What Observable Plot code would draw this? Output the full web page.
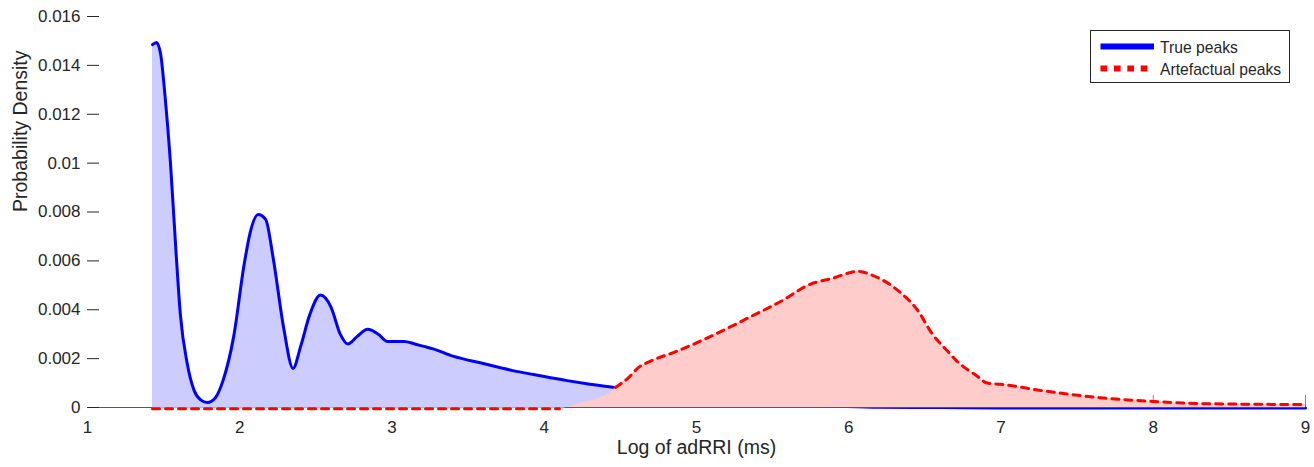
<!DOCTYPE html>
<html>
<head>
<meta charset="utf-8">
<script src="https://cdn.jsdelivr.net/npm/d3@7"></script>
<script src="https://cdn.jsdelivr.net/npm/@observablehq/plot@0.6"></script>
<style>
  body { margin: 0; background: #fff; }
  #wrap { position: relative; width: 1314px; height: 467px; font-family: "Liberation Sans", Arial, sans-serif; }
  #legend { position: absolute; left: 1090px; top: 30px; }
</style>
</head>
<body>
<div id="wrap">
  <div id="chart"></div>
  <div id="legend"></div>
</div>
<script>
// ---- data ----
const trueX = [1.427, 1.453, 1.48, 1.51, 1.545, 1.58, 1.61, 1.655, 1.70, 1.745, 1.786, 1.84, 1.89, 1.96, 2.03, 2.07, 2.12, 2.17, 2.22, 2.29, 2.35, 2.40, 2.46, 2.53, 2.60, 2.66, 2.71, 2.77, 2.84, 2.91, 2.97, 3.03, 3.08, 3.15, 3.21, 3.27, 3.40, 3.60, 3.80, 3.93, 4.15, 4.30, 4.47, 4.6, 4.8, 5.0, 5.3, 5.6, 5.9, 6.2, 6.6, 7.0, 7.5, 8.0, 8.5, 9.0];
const trueY = [0.01485, 0.01494, 0.01448, 0.0127, 0.0100, 0.0065, 0.0038, 0.0018, 0.0007, 0.0003, 0.0002, 0.0004, 0.0011, 0.0029, 0.0059, 0.0072, 0.0079, 0.0077, 0.0061, 0.0032, 0.0016, 0.0025, 0.0038, 0.0046, 0.0041, 0.0030, 0.0026, 0.0029, 0.0032, 0.0030, 0.0027, 0.0027, 0.0027, 0.0026, 0.0025, 0.0024, 0.0021, 0.0018, 0.0015, 0.00135, 0.0011, 0.00095, 0.0008, 0.0006, 0.0004, 0.0003, 0.0002, 0.00012, 0.00006, 0.00001, 0, -0.00002, -0.00002, -0.00002, -0.00002, -0.00002];

const artX = [1.427, 4.10, 4.18, 4.26, 4.37, 4.45, 4.467, 4.55, 4.62, 4.70, 4.87, 5.09, 5.35, 5.57, 5.73, 5.90, 6.06, 6.16, 6.34, 6.45, 6.55, 6.65, 6.71, 6.84, 6.91, 7.0, 7.26, 7.65, 8.0, 8.3, 9.0];
const artY = [-0.00005, -0.00005, 0.00005, 0.0002, 0.0004, 0.0007, 0.00082, 0.0012, 0.00164, 0.0019, 0.0023, 0.0029, 0.0037, 0.0044, 0.0050, 0.0053, 0.00557, 0.0054, 0.0047, 0.0040, 0.0030, 0.0023, 0.0019, 0.0013, 0.0010, 0.00095, 0.0007, 0.0004, 0.00025, 0.00016, 0.00012];

const xTicks = [1, 2, 3, 4, 5, 6, 7, 8, 9];
const yTicks = [0, 0.002, 0.004, 0.006, 0.008, 0.01, 0.012, 0.014, 0.016];
const seriesNames = ["True peaks", "Artefactual peaks"];
const xLabel = "Log of adRRI (ms)";
const yLabel = "Probability Density";

// ---- build tables ----
const trueData = trueX.map((x, i) => ({x, y: trueY[i]}));
const artData = artX.map((x, i) => ({x, y: artY[i]}));
const bis = d3.bisector(d => d).left;
function trueAt(x) {
  const i = Math.max(1, Math.min(trueX.length - 1, bis(trueX, x)));
  const t = (x - trueX[i - 1]) / (trueX[i] - trueX[i - 1]);
  return trueY[i - 1] + t * (trueY[i] - trueY[i - 1]);
}
// the dashed line is hidden where it lies beneath the blue fill
const artLine = artData.map(d => ({x: d.x, y: (d.y <= 0 || d.y >= trueAt(d.x) - 1e-5) ? d.y : NaN}));

const ink = "#262626";
const chart = Plot.plot({
  width: 1314,
  height: 467,
  marginLeft: 87,
  marginRight: 9,
  marginTop: 16,
  marginBottom: 60,
  style: {fontFamily: "'Liberation Sans', Arial, sans-serif", fontSize: "17px", color: ink, background: "#fff"},
  x: {domain: [1, 9]},
  y: {domain: [0, 0.016]},
  marks: [
    Plot.ruleY([0], {stroke: ink, strokeWidth: 1}),
    Plot.axisX({ticks: xTicks.slice(1), tickSize: -12, tickFormat: () => "", stroke: "#888", label: null}),
    Plot.areaY(trueData, {x: "x", y: "y", fill: "#ccccff", curve: "monotone-x"}),
    Plot.line(trueData, {x: "x", y: "y", stroke: "#0000ff", strokeWidth: 3, curve: "monotone-x"}),
    Plot.areaY(artData, {x: "x", y: "y", fill: "#ffcccc", curve: "monotone-x"}),
    Plot.ruleY([0], {stroke: "#8888aa", strokeOpacity: 0.5, strokeWidth: 1}),
    Plot.line(artLine, {x: "x", y: "y", stroke: "#ff0000", strokeWidth: 3, strokeDasharray: "7,6", curve: "monotone-x"}),
    Plot.axisY({ticks: yTicks, tickSize: -12, tickFormat: () => "", stroke: ink, label: null}),
    Plot.axisY({ticks: yTicks, tickSize: 0, tickPadding: 7, tickFormat: d => String(d), fill: ink, label: null}),
    Plot.axisX({ticks: xTicks, tickSize: 0, tickPadding: 13, tickFormat: d => String(d), fill: ink, label: null}),
    Plot.text([xLabel], {frameAnchor: "bottom", dy: 46, fontSize: 19.5, fill: ink}),
    Plot.text([yLabel], {frameAnchor: "left", rotate: -90, dx: -67, fontSize: 19.5, fill: ink})
  ]
});
document.getElementById("chart").appendChild(chart);

// ---- legend ----
const lg = d3.select("#legend").append("svg").attr("width", 201).attr("height", 54)
  .style("font-family", "'Liberation Sans', Arial, sans-serif");
lg.append("rect").attr("x", 0.5).attr("y", 0.5).attr("width", 199).attr("height", 52)
  .attr("fill", "#fff").attr("stroke", ink).attr("stroke-width", 1);
const styles = [
  {stroke: "#0000ff", dash: null, x2: 64},
  {stroke: "#ff0000", dash: "6.7,6.7", x2: 58}
];
seriesNames.forEach((name, i) => {
  const cy = 16.5 + i * 22;
  lg.append("line").attr("x1", 10.5).attr("x2", styles[i].x2).attr("y1", cy).attr("y2", cy)
    .attr("stroke", styles[i].stroke).attr("stroke-width", 6).attr("stroke-dasharray", styles[i].dash);
  lg.append("text").attr("x", 70).attr("y", cy + 1).attr("dy", "0.35em")
    .attr("font-size", 15.7).attr("fill", ink).text(name);
});
</script>
</body>
</html>
